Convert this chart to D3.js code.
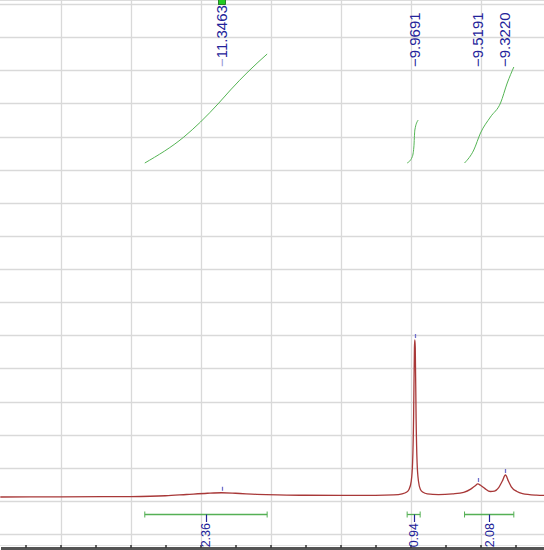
<!DOCTYPE html>
<html>
<head>
<meta charset="utf-8">
<script src="https://cdn.jsdelivr.net/npm/d3@7"></script>
<style>
  html, body { margin: 0; padding: 0; background: #fff; overflow: hidden; }
</style>
</head>
<body>
<div id="chart"></div>
<script>
// spectrum (ppm, intensity in % of tallest peak)
var specPpm = [-12.93, -12.5, -12.0, -11.75, -11.6, -11.45, -11.35, -11.25, -11.1, -10.95, -10.75, -10.5, -10.25,
  -10.12, -10.06, -10.03, -10.01, -9.995, -9.985, -9.978, -9.972, -9.969, -9.966, -9.96, -9.953, -9.943, -9.93,
  -9.91, -9.88, -9.8, -9.7, -9.62, -9.57, -9.54, -9.519, -9.5, -9.47, -9.43, -9.4, -9.37, -9.345, -9.322,
  -9.3, -9.28, -9.24, -9.2, -9.1, -9.04];
var specInt = [0, 0.1, 0.3, 0.8, 1.6, 2.4, 2.7, 2.4, 1.7, 1.3, 1.1, 1.0, 1.0,
  1.3, 2.0, 3.0, 5, 10, 22, 50, 95, 100, 95, 50, 22, 10, 5,
  3, 2, 1.5, 2.0, 3.0, 5, 7, 8.3, 7.5, 5.5, 3.5, 3.8, 6, 10, 14,
  10, 6.5, 3.5, 2.2, 1.2, 1.0];

// picked peaks
var peakPpm = [-11.3463, -9.9691, -9.5191, -9.3220];
var peakText = ['11.3463', '9.9691', '9.5191', '9.3220'];
var peakTop = [2.7, 100, 8.3, 14];

// integral curves (ppm, running integral)
var int1Ppm = [-11.898, -11.619, -11.5, -11.369, -11.286, -11.155, -11.024];
var int1Val = [0, 26, 41, 60, 73, 92, 109];
var int2Ppm = [-10.024, -9.988, -9.976, -9.969, -9.945];
var int2Val = [0, 6, 16, 33, 43];
var int3Ppm = [-9.614, -9.548, -9.5, -9.429, -9.357, -9.309, -9.262];
var int3Val = [0, 13, 30, 46, 60, 80, 96];

// integration ranges + values
var rangeFrom = [-11.898, -10.024, -9.614];
var rangeTo = [-11.024, -9.931, -9.262];
var rangeVal = ['2.36', '0.94', '2.08'];

var width = 544, height = 550;
var blue = '#23239a';

var svg = d3.select('#chart').append('svg')
    .attr('width', width)
    .attr('height', height)
    .style('font-family', '"Liberation Sans", Arial, sans-serif');

var x = d3.scaleLinear()
    .domain([-12.9286, -9.0429])
    .range([0.5, width + 0.5]);

// spectrum intensity
var y = d3.scaleLinear()
    .domain([0, 100])
    .range([497, 340]);

// grid rows
var yGrid = d3.scaleLinear()
    .domain([0, 16])
    .range([4, 534]);

// integral curves
var yInt = d3.scaleLinear()
    .domain([0, 110])
    .range([163, 53]);

var grid = svg.append('g').attr('class', 'grid');

grid.selectAll('.hline')
    .data(d3.range(0, 17))
    .enter().append('line')
    .attr('x1', 0).attr('x2', width)
    .attr('y1', d => Math.round(yGrid(d)) + 0.5)
    .attr('y2', d => Math.round(yGrid(d)) + 0.5)
    .attr('stroke', '#d9d9d9')
    .attr('stroke-width', 1.3);

grid.append('line')
    .attr('x1', 0).attr('x2', width)
    .attr('y1', 0.5).attr('y2', 0.5)
    .attr('stroke', '#dcdcdc');
grid.append('line')
    .attr('x1', 0).attr('x2', width)
    .attr('y1', 545.5).attr('y2', 545.5)
    .attr('stroke', '#e4e4e4');

grid.selectAll('.vline')
    .data(d3.range(-12.5, -9.0, 0.5))
    .enter().append('line')
    .attr('x1', d => Math.round(x(d)) + 0.5)
    .attr('x2', d => Math.round(x(d)) + 0.5)
    .attr('y1', 0).attr('y2', height)
    .attr('stroke', '#d9d9d9')
    .attr('stroke-width', 1.3);

// bottom axis, its labels sit below the window so none are drawn
var xAxis = d3.axisBottom(x)
    .tickValues(d3.range(-12.75, -9.0, 0.25))
    .tickFormat('')
    .tickSizeInner(-3)
    .tickSizeOuter(0);

var ax = svg.append('g')
    .attr('transform', 'translate(0,548)')
    .call(xAxis);
ax.select('.domain').attr('stroke', '#555').attr('stroke-width', 3);
ax.selectAll('.tick line').attr('stroke', '#333').attr('stroke-width', 1.5);
ax.selectAll('.tick text').remove();

// spectrum
var specData = specPpm.map((p, i) => ({ppm: p, v: specInt[i]}));
var specLine = d3.line()
    .curve(d3.curveMonotoneX)
    .x(d => x(d.ppm))
    .y(d => y(d.v));

svg.append('path')
    .datum(specData)
    .attr('fill', 'none')
    .attr('stroke', '#a83838')
    .attr('stroke-width', 1.3)
    .attr('d', specLine);

// peak markers above each peak
svg.selectAll('.pmark')
    .data(peakPpm)
    .enter().append('line')
    .attr('x1', d => Math.round(x(d)) + 0.5)
    .attr('x2', d => Math.round(x(d)) + 0.5)
    .attr('y1', (d, i) => y(peakTop[i]) - 6)
    .attr('y2', (d, i) => y(peakTop[i]) - 2)
    .attr('stroke', '#7070cc')
    .attr('stroke-width', 1.3);

// integral curves
var intLine = d3.line()
    .curve(d3.curveMonotoneX)
    .x(d => x(d.ppm))
    .y(d => yInt(d.v));

[[int1Ppm, int1Val], [int2Ppm, int2Val], [int3Ppm, int3Val]].forEach(function(c) {
    svg.append('path')
        .datum(c[0].map((p, i) => ({ppm: p, v: c[1][i]})))
        .attr('fill', 'none')
        .attr('stroke', '#55b555')
        .attr('stroke-width', 1)
        .attr('d', intLine);
});

// peak labels (rotated, reading upward)
var pl = svg.selectAll('.plabel')
    .data(peakPpm)
    .enter().append('text')
    .attr('transform', d => 'translate(' + x(d) + ',67) rotate(-90)')
    .attr('dy', '0.32em')
    .attr('font-size', 15)
    .attr('fill', blue);
pl.append('tspan')
    .attr('fill', (d, i) => i === 0 ? '#9a9ad8' : blue)
    .text('\u2212');
pl.append('tspan')
    .text((d, i) => peakText[i]);

// selected-peak handle
svg.append('rect')
    .attr('x', x(peakPpm[0]) - 3.5)
    .attr('y', -3)
    .attr('width', 7)
    .attr('height', 7.5)
    .attr('fill', '#22cc22')
    .attr('stroke', '#116611')
    .attr('stroke-width', 0.8);

// integration ranges
var rg = svg.selectAll('.range')
    .data(rangeVal)
    .enter().append('g');

rg.append('line')
    .attr('x1', (d, i) => x(rangeFrom[i]))
    .attr('x2', (d, i) => x(rangeTo[i]))
    .attr('y1', 514.5).attr('y2', 514.5)
    .attr('stroke', '#55b055')
    .attr('stroke-width', 1.3);
rg.append('line')
    .attr('x1', (d, i) => x(rangeFrom[i]))
    .attr('x2', (d, i) => x(rangeFrom[i]))
    .attr('y1', 511.5).attr('y2', 517.5)
    .attr('stroke', '#55b055');
rg.append('line')
    .attr('x1', (d, i) => x(rangeTo[i]))
    .attr('x2', (d, i) => x(rangeTo[i]))
    .attr('y1', 511.5).attr('y2', 517.5)
    .attr('stroke', '#55b055');
rg.append('line')
    .attr('x1', (d, i) => Math.round(x((rangeFrom[i] + rangeTo[i]) / 2)) + 0.5)
    .attr('x2', (d, i) => Math.round(x((rangeFrom[i] + rangeTo[i]) / 2)) + 0.5)
    .attr('y1', 514.5).attr('y2', 522)
    .attr('stroke', blue)
    .attr('stroke-width', 1.2);
rg.append('text')
    .attr('transform', (d, i) => 'translate(' + x((rangeFrom[i] + rangeTo[i]) / 2) + ',523) rotate(-90)')
    .attr('text-anchor', 'end')
    .attr('dy', '0.36em')
    .attr('font-size', 12.5)
    .attr('fill', blue)
    .text(d => d);
</script>
</body>
</html>
